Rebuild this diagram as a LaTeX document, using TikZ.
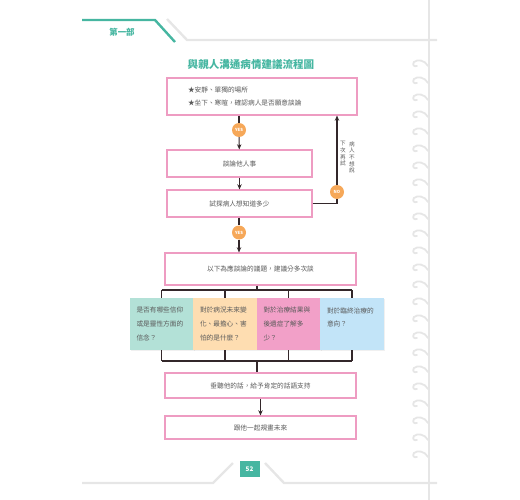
\documentclass[tikz,border=0pt]{standalone}
\usepackage{fontspec}
\setmainfont{Noto Sans CJK TC}
\usetikzlibrary{positioning, shadows, arrows.meta}
\definecolor{bookteal}{HTML}{46B6A1}
\definecolor{boxpink}{HTML}{EE9CC2}
\definecolor{dotorange}{HTML}{F6A859}
\definecolor{linebrown}{HTML}{33272A}
\definecolor{textgray}{HTML}{5A5A5A}
\definecolor{pagegray}{HTML}{E6E6E6}
\definecolor{fillteal}{HTML}{B3E1D7}
\definecolor{fillorange}{HTML}{FEDDB1}
\definecolor{fillpink}{HTML}{F2A0C8}
\definecolor{fillblue}{HTML}{C2E4F8}
\tikzset{
    >={Stealth[length=2.6mm, width=2.2mm]}, % arrow heads
    flowbox/.style={draw=boxpink, line width=1.5pt, fill=white, text=textgray,
        font=\fontsize{9.5}{18}\selectfont,
        drop shadow={opacity=0.12, shadow xshift=0.6mm, shadow yshift=-0.6mm}}, % pink step boxes
    yesno/.style={circle, fill=dotorange, text=white, inner sep=0pt,
        minimum size=7mm, font=\fontsize{6}{6}\selectfont\bfseries}, % YES / NO dots
    topic/.style={draw=none, text=textgray, minimum width=32mm, minimum height=26mm,
        text width=25mm, inner xsep=3.5mm, align=left,
        font=\fontsize{9.5}{19.5}\selectfont,
        drop shadow={opacity=0.12, shadow xshift=0.6mm, shadow yshift=-0.6mm}}, % coloured topic boxes
    flowline/.style={draw=linebrown, line width=1.5pt}, % connectors
    pageline/.style={draw=pagegray, line width=1.2mm}, % page frame
    hook/.style={draw=pagegray, line width=0.9mm, line cap=round}, % binder rings
}
\begin{document}
\begin{tikzpicture}[x=0.5mm, y=-0.5mm]
\useasboundingbox (0,0) rectangle (520,500);
% page frame
\draw[pageline] (167,19) -- (187,40) -- (437,40);
\draw[pageline] (82,483) -- (213,483) -- (233,463);
\draw[pageline] (265,463) -- (284,483) -- (437,483);
\draw[draw=pagegray, line width=0.8mm] (429,0) -- (429,500);
\draw[draw=bookteal, line width=1.2mm] (82,20) -- (155,20) -- (175,42);
\node[text=bookteal, font=\fontsize{12}{12}\selectfont\bfseries] (part) at (122,32) {第一部};
\foreach \y in {63,80,...,454}
    \draw[hook] (428,\y+3) .. controls (425,\y-3) and (417,\y-4) .. (414,\y-1)
        .. controls (412,\y+2) and (414,\y+4) .. (417,\y+3);
\node[fill=bookteal, text=white, minimum width=10mm, minimum height=8mm, inner sep=0pt,
    font=\fontsize{9}{9}\selectfont\bfseries] (page) at (249.5,469) {52};
% title
\node[text=bookteal, font=\fontsize{15}{15}\selectfont\bfseries] (title) at (251,65) {與親人溝通病情建議流程圖};
% flow
\node[flowbox, align=left, text width=74mm, inner xsep=10.5mm, minimum height=18.5mm] (intro) at (262,96.5)
    {★安靜、單獨的場所\\★坐下、寒暄，確認病人是否願意談論};
\node[yesno] (yes1) at (239,130) {YES};
\node[flowbox, minimum width=72.5mm, minimum height=13.5mm] (talk) at (239.5,163.5) {談論他人事};
\node[flowbox, minimum width=72.5mm, minimum height=13.5mm] (ask) at (239.5,203.5) {試探病人想知道多少};
\node[yesno] (no) at (337,192) {NO};
\node[text=textgray, align=center, anchor=north, font=\fontsize{8}{9.4}\selectfont] (refuse) at (352,139)
    {病\\人\\不\\想\\說};
\node[text=textgray, align=center, anchor=north, font=\fontsize{8}{9.4}\selectfont] (retry) at (343,139)
    {下\\次\\再\\試};
\node[yesno] (yes2) at (239,232.5) {YES};
\node[flowbox, minimum width=95.5mm, minimum height=16mm] (topics) at (260.5,269) {以下為應談論的議題，建議分多次談};
\node[topic, fill=fillteal] (faith) at (161.5,324) {是否有哪些信仰\\或是靈性方面的\\信念？};
\node[topic, fill=fillorange] (fear) at (225,324) {對於病況未來變\\化、最擔心、害\\怕的是什麼？};
\node[topic, fill=fillpink] (result) at (288.5,324) {對於治療結果與\\後遺症了解多\\少？};
\node[topic, fill=fillblue] (wish) at (352,324) {對於臨終治療的\\意向？\\\mbox{}};
\node[flowbox, minimum width=95.5mm, minimum height=12.5mm] (support) at (260.5,385.5) {垂聽他的話，給予肯定的話語支持};
\node[flowbox, minimum width=95.5mm, minimum height=11.5mm] (future) at (260.5,427.5) {跟他一起規畫未來};
\coordinate (mid) at (257,0);
% connectors
\draw[flowline] (intro.south -| yes1) -- (yes1);
\draw[flowline, ->] (yes1) -- (talk);
\draw[flowline, ->] (talk) -- (ask);
\draw[flowline] (ask.east) -| (no);
\draw[flowline, ->] (no) -- (no |- intro.south);
\draw[flowline] (ask.south -| yes2) -- (yes2);
\draw[flowline, ->] (yes2) -- (yes2 |- topics.north);
\draw[flowline] (topics.south -| mid) -- (mid |- 0,290);
\draw[flowline] (faith.north |- 0,290) -- (wish.north |- 0,290);
\foreach \t in {faith, fear, result, wish} {
    \draw[flowline] (\t.north |- 0,290) -- (\t.north);
    \draw[flowline] (\t.south) -- (\t.south |- 0,361);
}
\draw[flowline] (faith.south |- 0,361) -- (wish.south |- 0,361);
\draw[flowline] (mid |- 0,361) -- (mid |- support.north);
\draw[flowline, ->] (support) -- (future);
\end{tikzpicture}
\end{document}
